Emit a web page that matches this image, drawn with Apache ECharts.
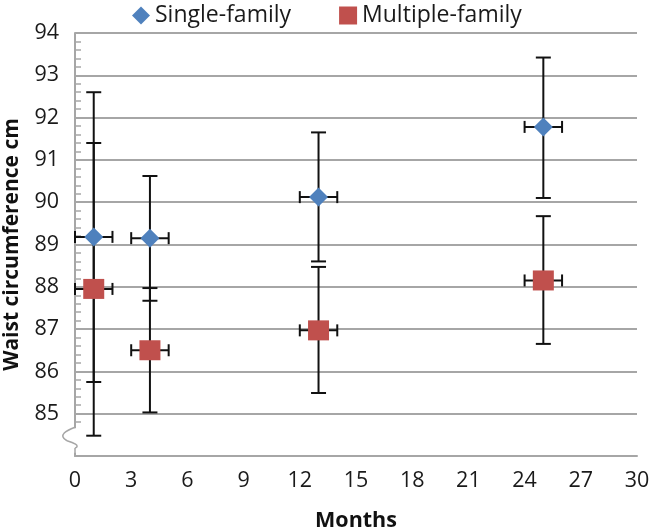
<!DOCTYPE html>
<html><head><meta charset="utf-8">
<script src="https://cdn.jsdelivr.net/npm/echarts@6/dist/echarts.min.js"></script>
<style>html,body{margin:0;padding:0;background:#fff}#c{width:650px;height:531px}</style>
</head><body><div id="c"></div>
<script>
var months = [1, 4, 13, 25];
var monthErr = [1, 1, 1, 1];
var singleMean = [89.18, 89.15, 90.12, 91.78];
var singleLow = [85.75, 87.67, 88.6, 90.1];
var singleHigh = [92.6, 90.62, 91.65, 93.42];
var multiMean = [87.95, 86.5, 86.97, 88.15];
var multiLow = [84.48, 85.03, 85.49, 86.65];
var multiHigh = [91.4, 87.97, 88.47, 89.67];
var xTicks = [0, 3, 6, 9, 12, 15, 18, 21, 24, 27, 30];
var yTicks = [85, 86, 87, 88, 89, 90, 91, 92, 93, 94];

var FONT = 'Open Sans';
function errData(mean, lo, hi) {
  return months.map(function (m, i) { return [m, mean[i], lo[i], hi[i], monthErr[i]]; });
}
function renderErr(params, api) {
  var x = api.value(0), y = api.value(1), lo = api.value(2), hi = api.value(3), dx = api.value(4);
  var c = api.coord([x, y]);
  var pLo = api.coord([x, lo]), pHi = api.coord([x, hi]);
  var pL = api.coord([x - dx, y]), pR = api.coord([x + dx, y]);
  var cap = 7.5, hcap = 6;
  var st = {stroke: '#111', lineWidth: 2};
  return {type: 'group', children: [
    {type: 'line', shape: {x1: c[0], y1: pLo[1], x2: c[0], y2: pHi[1]}, style: st},
    {type: 'line', shape: {x1: c[0] - cap, y1: pLo[1], x2: c[0] + cap, y2: pLo[1]}, style: st},
    {type: 'line', shape: {x1: c[0] - cap, y1: pHi[1], x2: c[0] + cap, y2: pHi[1]}, style: st},
    {type: 'line', shape: {x1: pL[0], y1: c[1], x2: pR[0], y2: c[1]}, style: st},
    {type: 'line', shape: {x1: pL[0], y1: c[1] - hcap, x2: pL[0], y2: c[1] + hcap}, style: st},
    {type: 'line', shape: {x1: pR[0], y1: c[1] - hcap, x2: pR[0], y2: c[1] + hcap}, style: st}
  ]};
}

var chart = echarts.init(document.getElementById('c'), null, {renderer: 'canvas'});
var option = {
  animation: false,
  textStyle: {fontFamily: FONT},
  grid: {left: 75, right: 13, top: 33, bottom: 75, containLabel: false, outerBoundsMode: 'none'},
  legend: {
    top: -1, left: 127,
    itemGap: 48, itemWidth: 18, itemHeight: 18,
    textStyle: {fontFamily: FONT, fontSize: 23, color: '#1a1a1a'},
    data: [
      {name: 'Single-family', icon: 'diamond'},
      {name: 'Multiple-family', icon: 'rect'}
    ]
  },
  xAxis: {
    type: 'value', min: 0, max: 30, interval: 3,
    name: 'Months', nameLocation: 'middle', nameGap: 54,
    nameTextStyle: {fontFamily: FONT, fontSize: 21.5, fontWeight: 'bold', color: '#111'},
    axisLine: {show: true, lineStyle: {color: '#a6a6a6', width: 2}},
    axisTick: {show: false},
    splitLine: {show: false},
    axisLabel: {fontSize: 21.5, color: '#1a1a1a', margin: 14,
      formatter: function (v) { return xTicks.indexOf(v) >= 0 ? String(v) : ''; }}
  },
  yAxis: {
    type: 'value', min: 84, max: 94, interval: 1,
    name: 'Waist circumference cm', nameLocation: 'middle', nameGap: 52,
    nameTextStyle: {fontFamily: FONT, fontSize: 21, fontWeight: 'bold', color: '#111'},
    axisLine: {show: true, lineStyle: {color: '#a6a6a6', width: 2}},
    axisTick: {show: true, inside: true, length: 6, lineStyle: {color: '#a6a6a6', width: 1.5}},
    minorTick: {show: true, splitNumber: 5, length: 6, lineStyle: {color: '#a6a6a6', width: 1.5}},
    splitLine: {show: true, lineStyle: {color: '#a6a6a6', width: 2}},
    axisLabel: {fontSize: 21.5, color: '#1a1a1a', margin: 16,
      formatter: function (v) { return yTicks.indexOf(v) >= 0 ? String(v) : ''; }}
  },
  series: [
    {type: 'custom', name: 'sErr', renderItem: renderErr, data: errData(singleMean, singleLow, singleHigh), z: 2, silent: true},
    {type: 'custom', name: 'mErr', renderItem: renderErr, data: errData(multiMean, multiLow, multiHigh), z: 2, silent: true},
    {type: 'scatter', name: 'Single-family', symbol: 'diamond', symbolSize: [19, 19],
      itemStyle: {color: '#4f81bd', opacity: 1}, z: 5,
      data: months.map(function (m, i) { return [m, singleMean[i]]; })},
    {type: 'scatter', name: 'Multiple-family', symbol: 'rect', symbolSize: [21, 20],
      itemStyle: {color: '#c0504d', opacity: 1}, z: 5,
      data: months.map(function (m, i) { return [m, multiMean[i]]; })}
  ]
};
chart.setOption(option);

// axis break squiggle on the y axis between 84 and 85
var pA = chart.convertToPixel({xAxisIndex: 0, yAxisIndex: 0}, [0, 84.68]);
var pB = chart.convertToPixel({xAxisIndex: 0, yAxisIndex: 0}, [0, 84.1]);
var ax = pA[0], y1 = pA[1], y2 = pB[1];
var h = y2 - y1;
var gs = {fill: 'none', stroke: '#a6a6a6', lineWidth: 1.5};
chart.setOption({graphic: [
  {type: 'rect', shape: {x: ax - 4, y: y1 + 1, width: 12, height: h}, style: {fill: '#fff'}, z: 100},
  {type: 'bezierCurve', z: 101,
    shape: {x1: ax, y1: y1, cpx1: ax - 8, cpy1: y1 + 3, cpx2: ax - 18, cpy2: y1 + 8, x2: ax - 8, y2: y1 + h * 0.55},
    style: gs},
  {type: 'bezierCurve', z: 101,
    shape: {x1: ax - 8, y1: y1 + h * 0.55, cpx1: ax - 2, cpy1: y1 + h * 0.62, cpx2: ax + 6, cpy2: y1 + h * 0.75, x2: ax, y2: y1 + h * 0.85},
    style: gs},
  {type: 'line', z: 101, shape: {x1: ax, y1: y1 + h * 0.85, x2: ax, y2: y2 + 2}, style: gs}
]});
</script></body></html>
